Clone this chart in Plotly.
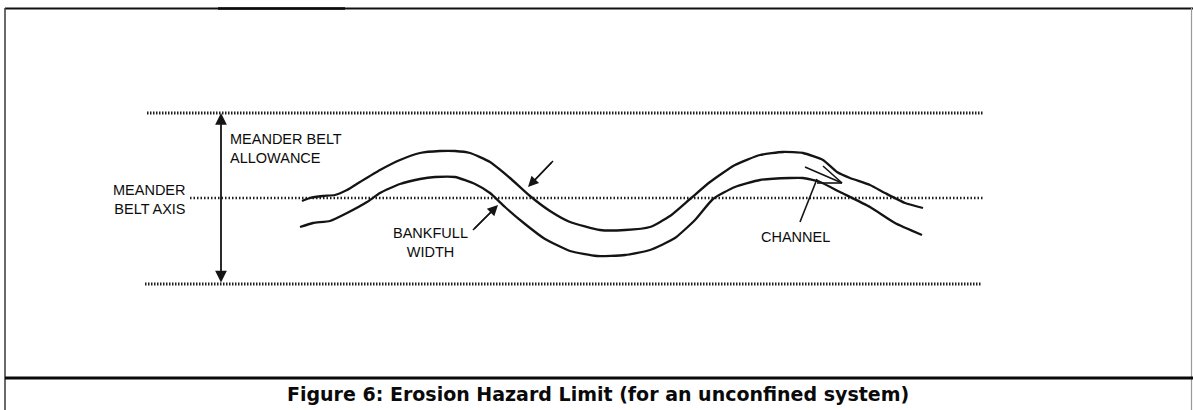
import plotly.graph_objects as go

# ---- diagram data (pixel-space coordinates of the sketch) ----
upper_bank_x = [302, 310, 323, 335, 347, 360, 380, 400, 420, 440, 455, 470, 490, 510, 530, 550, 570, 600, 625, 650, 670, 690, 710, 735, 760, 783, 803, 823, 837, 850, 870, 885, 905, 923]
upper_bank_y = [201, 198, 196, 195, 190, 182, 170, 160, 153, 151, 151, 153, 162, 178, 196, 211, 222, 230, 230, 227, 216, 199, 182, 165, 155, 152, 153, 160, 172, 178, 185, 193, 203, 208]

lower_bank_x = [300, 313, 330, 347, 367, 380, 400, 420, 435, 455, 475, 490, 505, 525, 545, 570, 597, 625, 650, 675, 695, 713, 735, 760, 790, 803, 820, 840, 870, 895, 922]
lower_bank_y = [227, 223, 221, 213, 202, 193, 184, 179, 177, 177, 184, 193, 207, 224, 239, 251, 256, 255, 250, 238, 220, 199, 187, 180, 178, 178, 182, 192, 207, 223, 235]

belt_lines_x = [[147, 983], [190, 983], [145, 981]]
belt_lines_y = [113, 198, 284]
belt_line_names = ["belt limit (upper)", "meander belt axis", "belt limit (lower)"]

labels = ["MEANDER BELT<br>ALLOWANCE", "MEANDER<br>BELT AXIS", "BANKFULL<br>WIDTH", "CHANNEL"]
label_x = [228, 188, 430, 795]
label_y = [148, 199, 242, 237]
label_anchor = ["left", "right", "center", "center"]

caption = "Figure 6: Erosion Hazard Limit (for an unconfined system)"

INK = "#141414"

fig = go.Figure()

# dotted belt lines
for xs, yv, nm in zip(belt_lines_x, belt_lines_y, belt_line_names):
    is_axis = nm == "meander belt axis"
    fig.add_trace(go.Scatter(
        x=xs, y=[yv, yv], mode="lines", name=nm, hoverinfo="skip",
        line=dict(color="#1e1e1e", width=2.6 if is_axis else 3,
                  dash="1.5px,2px" if is_axis else "1.5px,1.5px")))

# channel banks
fig.add_trace(go.Scatter(x=upper_bank_x, y=upper_bank_y, mode="lines", name="bank",
                         line=dict(color=INK, width=2.3, shape="spline", smoothing=0.5), hoverinfo="skip"))
fig.add_trace(go.Scatter(x=lower_bank_x, y=lower_bank_y, mode="lines", name="bank",
                         line=dict(color=INK, width=2.3, shape="spline", smoothing=0.5), hoverinfo="skip"))

# channel flow arrow (open head) + leader lines
arrow_segments = [
    ([805, 842], [167, 183]),
    ([823, 842], [166, 183]),
    ([817, 842], [183, 183]),
    ([817, 800], [179, 222]),
    ([473, 495], [230, 208]),
    ([553, 531], [161, 184]),
]
for sx, sy in arrow_segments:
    fig.add_trace(go.Scatter(x=sx, y=sy, mode="lines", hoverinfo="skip",
                             line=dict(color=INK, width=1.6)))

annotations = []
# meander belt allowance double arrow
annotations.append(dict(x=221, y=113, ax=221, ay=284, xref="x", yref="y", axref="x", ayref="y",
                        showarrow=True, arrowhead=2, arrowside="end+start", arrowsize=1.3,
                        arrowwidth=1.8, arrowcolor=INK, text=""))
# bankfull width dimension arrows
annotations.append(dict(x=498, y=205, ax=473, ay=230, xref="x", yref="y", axref="x", ayref="y",
                        showarrow=True, arrowhead=2, arrowsize=1.4, arrowwidth=1.5, arrowcolor=INK, text=""))
annotations.append(dict(x=528, y=187, ax=553, ay=161, xref="x", yref="y", axref="x", ayref="y",
                        showarrow=True, arrowhead=2, arrowsize=1.4, arrowwidth=1.5, arrowcolor=INK, text=""))

for t, lx, ly, anc in zip(labels, label_x, label_y, label_anchor):
    annotations.append(dict(x=lx, y=ly, xref="x", yref="y", text=t, showarrow=False,
                            xanchor=anc, yanchor="middle", align=anc,
                            font=dict(family="Liberation Sans, Arial, sans-serif", size=14.5, color="#0c0c0c")))

annotations.append(dict(x=598, y=394, xref="x", yref="y", text="<b>" + caption + "</b>", showarrow=False,
                        xanchor="center", yanchor="middle",
                        font=dict(family="DejaVu Sans, sans-serif", size=19, color="#0a0a0a")))

shapes = [
    dict(type="line", x0=5, x1=1193, y0=8.5, y1=8.5, xref="x", yref="y", line=dict(color="#111111", width=2)),
    dict(type="line", x0=218, x1=345, y0=8.5, y1=8.5, xref="x", yref="y", line=dict(color="#0a0a0a", width=2.6)),
    dict(type="line", x0=5, x1=5, y0=8, y1=410, xref="x", yref="y", line=dict(color="#444444", width=1.6)),
    dict(type="line", x0=1191.5, x1=1191.5, y0=8, y1=410, xref="x", yref="y", line=dict(color="#9a9a9a", width=1.2)),
    dict(type="line", x0=5, x1=1193, y0=378, y1=378, xref="x", yref="y", line=dict(color="#0a0a0a", width=2.8)),
]

fig.update_layout(
    width=1193, height=410, margin=dict(l=0, r=0, t=0, b=0),
    paper_bgcolor="white", plot_bgcolor="white", showlegend=False,
    xaxis=dict(range=[0, 1193], visible=False, fixedrange=True),
    yaxis=dict(range=[410, 0], visible=False, fixedrange=True),
    annotations=annotations, shapes=shapes,
)

fig.write_html("out.html", config={"displayModeBar": False},
               post_script="document.body.style.margin='0';document.body.style.overflow='hidden';")
